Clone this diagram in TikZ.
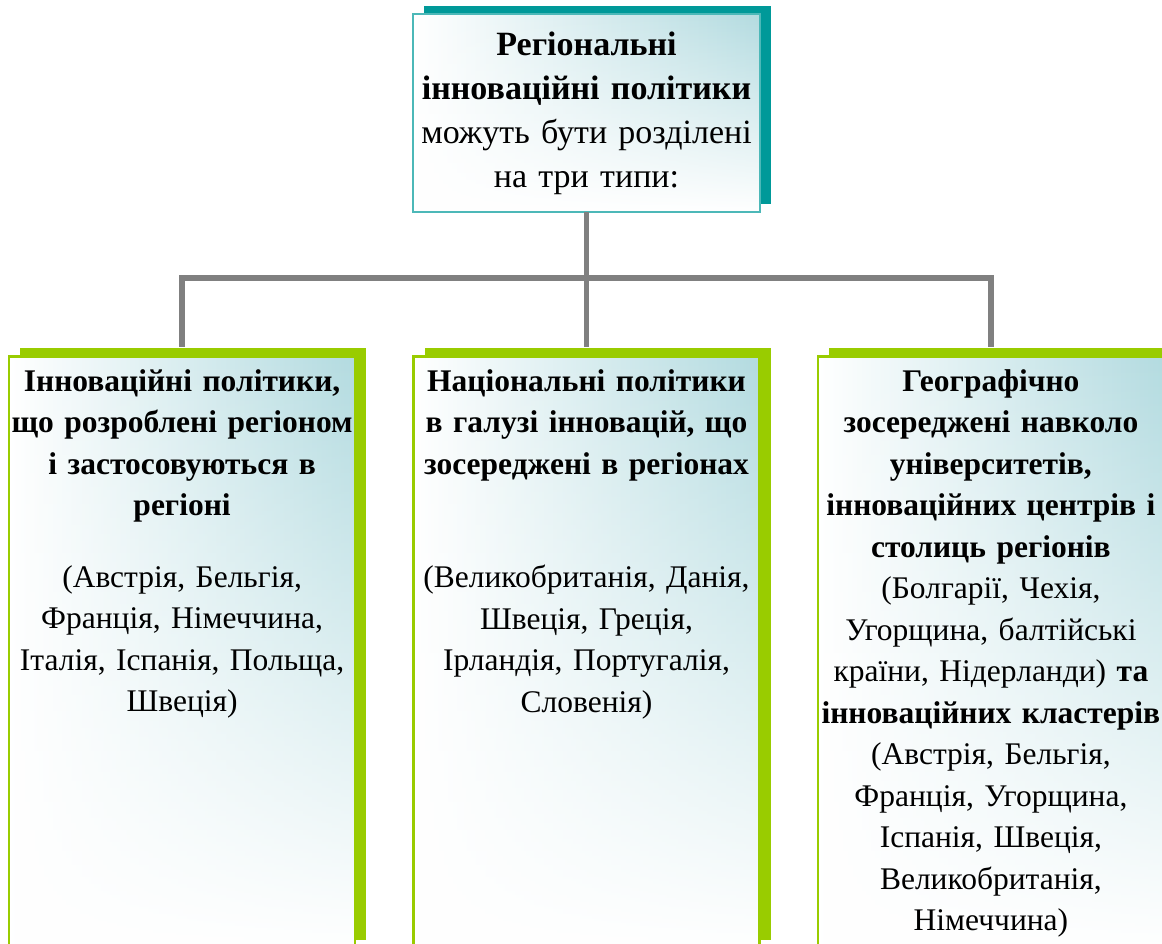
\documentclass[tikz,border=0pt]{standalone}
\usepackage{fontspec}
\setmainfont{Liberation Serif}
\usetikzlibrary{positioning,shadows,fadings}
\definecolor{tealshade}{HTML}{009999}
\definecolor{limeshade}{HTML}{99CC00}
\definecolor{paleteal}{HTML}{B3DBE0}
\definecolor{linkgray}{HTML}{808080}
\tikzstyle{headbox}=[
	rectangle,
	left color=white,
	right color=paleteal,
	postaction={fill=white, path fading=north},
	postaction={draw=tealshade!70, line width=2pt},
	general shadow={fill=tealshade, shadow xshift=11pt, shadow yshift=8pt},
	minimum width=347pt,
	minimum height=198pt,
	text width=343pt,
	align=center,
	inner xsep=2pt,
	font=\fontsize{34}{44}\selectfont
]
\tikzstyle{typebox}=[
	rectangle,
	left color=white,
	right color=paleteal,
	postaction={fill=white, path fading=north},
	postaction={draw=limeshade, line width=2.5pt},
	general shadow={fill=limeshade, shadow xshift=11pt, shadow yshift=8pt},
	minimum width=346pt,
	text width=344pt,
	align=center,
	inner xsep=1pt,
	inner ysep=10pt,
	text height=25pt,
	text depth=547pt,
	font=\fontsize{31.5}{41.5}\selectfont
]
\tikzstyle{link}=[
	draw=linkgray,
	line width=5.5pt,
	shorten >=9pt
]

\begin{document}
\begin{tikzpicture}[x=1pt,y=1pt]
\useasboundingbox (0,0) rectangle (1162,-943);
\clip (0,0) rectangle (1162,-943);
\node [headbox] (policies) at (586.5,-113) {\textbf{Регіональні}\\\textbf{інноваційні політики}\\можуть бути розділені\\на три типи:};
\node [typebox] (national)[below=144pt of policies] {{\bfseries Національні політики\\в галузі інновацій, що\\зосереджені в регіонах}\\[72pt]
	(Великобританія, Данія,\\Швеція, Греція,\\Ірландія, Португалія,\\Словенія)};
\node [typebox] (regional)[left=58pt of national] {{\bfseries Інноваційні політики,\\що розроблені регіоном\\і застосовуються в\\регіоні}\\[30pt]
	(Австрія, Бельгія,\\Франція, Німеччина,\\Італія, Іспанія, Польща,\\Швеція)};
\node [typebox] (geographic)[right=58pt of national] {{\bfseries Географічно\\зосереджені навколо\\університетів,\\інноваційних центрів і\\столиць регіонів}\\
	(Болгарії, Чехія,\\Угорщина, балтійські\\країни, Нідерланди) \textbf{та}\\\textbf{інноваційних кластерів}\\
	(Австрія, Бельгія,\\Франція, Угорщина,\\Іспанія, Швеція,\\Великобританія,\\Німеччина)};
% connectors
\draw [link] (policies.south) -- (national.north);
\draw [link] (policies.south) ++(0,-66) coordinate (fork) -| (regional.north);
\draw [link] (fork) -| (geographic.north);
\end{tikzpicture}
\end{document}
